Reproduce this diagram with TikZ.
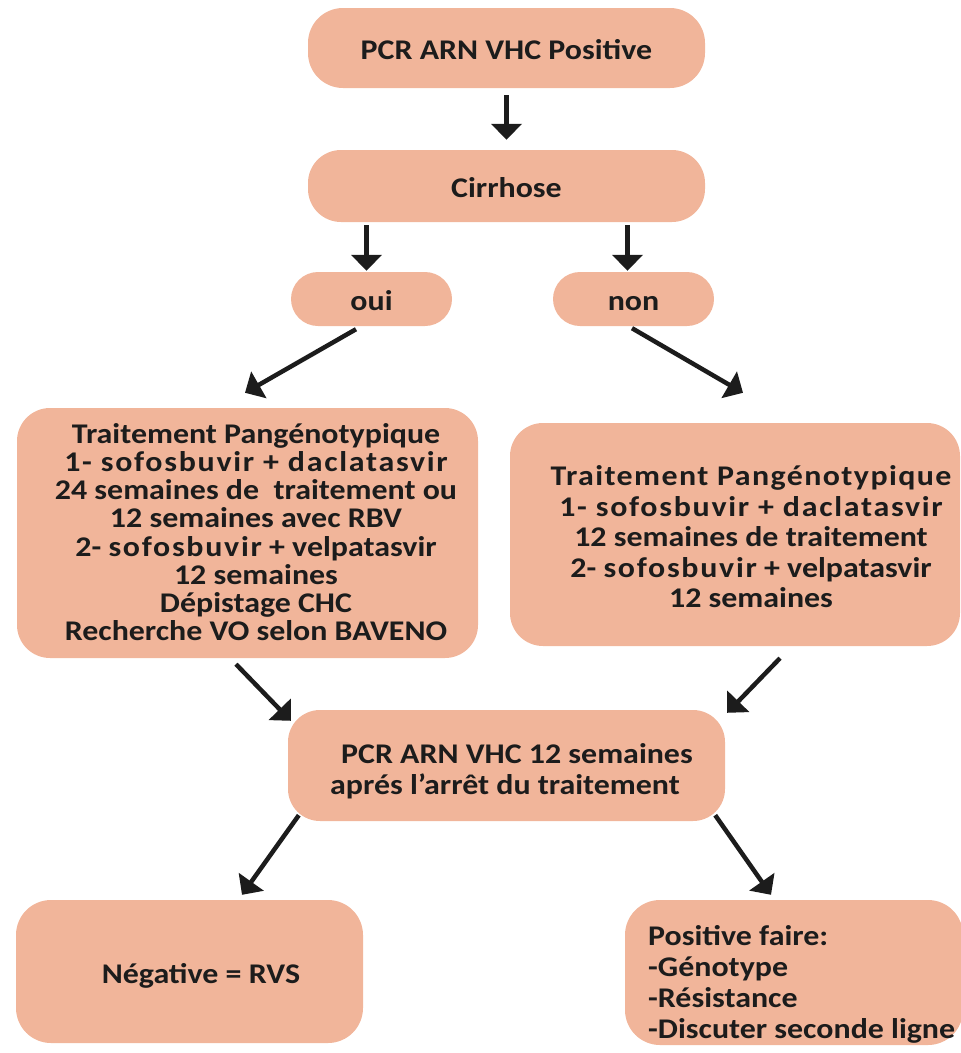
\documentclass[tikz,border=0pt]{standalone}
\usepackage{fontspec}
\setmainfont{Carlito}[FakeStretch=1.12]
\usetikzlibrary{arrows.meta,calc}
\definecolor{boxfill}{RGB}{241,181,154}
\definecolor{ink}{RGB}{28,28,28}
\newcommand\spc[1]{{\addfontfeature{LetterSpace=6}#1}}
\newcommand\spcb[1]{{\addfontfeature{LetterSpace=5}#1}}
\begin{document}
\begin{tikzpicture}[x=1pt,y=-1pt,
  box/.style={fill=boxfill, draw=none, inner sep=0pt},
  lbl/.style={font=\fontsize{28.5}{28.2}\selectfont\bfseries, text=ink, inner sep=0pt},
  one/.style={text height=22pt, text depth=0pt},
  arr/.style={draw=ink, line width=4.5pt, -{Triangle[width=30pt,length=16pt]}}]
\useasboundingbox (0,0) rectangle (961,1053);
% boxes
\node[box, lbl, one, rounded corners=35pt, minimum width=397pt, minimum height=80pt] (top) at (506.5,48) {PCR ARN VHC Positive};
\node[box, lbl, one, rounded corners=33pt, minimum width=397pt, minimum height=72pt] (cir) at (506.5,186) {Cirrhose};
\node[box, lbl, one, rounded corners=27pt, minimum width=161pt, minimum height=54pt] (oui) at (371.5,299) {oui};
\node[box, lbl, one, rounded corners=27pt, minimum width=161pt, minimum height=54pt] (non) at (633.5,299) {non};
\node[box, rounded corners=33pt, minimum width=461pt, minimum height=250pt] (L) at (247.5,533) {};
\node[box, rounded corners=33pt, minimum width=450pt, minimum height=223pt] (R) at (735,534.5) {};
\node[box, rounded corners=32pt, minimum width=437pt, minimum height=111pt] (C) at (506.5,765.5) {};
\node[box, rounded corners=35pt, minimum width=347pt, minimum height=143pt] (NEG) at (189.5,971.5) {};
\node[box, rounded corners=35pt, minimum width=338pt, minimum height=145pt] (POS) at (794,972.5) {};
% texts
\node[lbl, align=center] (Ltxt) at (256,532) {Traitement Pangénotypique\\
\spc{1- sofosbuvir + daclatasvir}\\
24 semaines de\ \ traitement ou\\
12 semaines avec RBV\\
2- \spc{sofosbuvir} + velpatasvir\\
12 semaines\\
Dépistage CHC\\
Recherche VO selon BAVENO};
\node[lbl, align=center, font=\fontsize{28.5}{30.5}\selectfont\bfseries] (Rtxt) at (751,537) {\spcb{Traitement Pangénotypique}\\
\spc{1- sofosbuvir + daclatasvir}\\
12 semaines de traitement\\
2- \spc{sofosbuvir} + velpatasvir\\
12 semaines};
\node[lbl, align=center, font=\fontsize{28.5}{31}\selectfont\bfseries] (Ctxt) at (505,771) {\hspace*{24pt}PCR ARN VHC 12 semaines\\aprés l’arrêt du traitement};
\node[lbl, anchor=base] (NEGtxt) at (201,983) {Négative = RVS};
\node[lbl, align=left, anchor=west, font=\fontsize{28.5}{31}\selectfont\bfseries] (POStxt) at (648,984) {Positive faire:\\-Génotype\\-Résistance\\-Discuter seconde ligne};
% arrows
\draw[arr] ($(top.south)+(0,7)$) -- ($(cir.north)+(0,-10)$);
\draw[arr] ($(oui.north |- cir.south)+(-5,3)$) -- ($(oui.north)+(-5,-1)$);
\draw[arr] ($(non.north |- cir.south)+(-6,3)$) -- ($(non.north)+(-6,-1)$);
\draw[arr] ($(oui.south)+(-15.5,3)$) -- ($(L.north)+(-2.5,-15)$);
\draw[arr] ($(non.south)+(-1.5,2)$) -- ($(R.north)+(8,-30)$);
\draw[arr] ($(L.south)+(-11.5,6)$) -- ($(C.north west)+(3,11)$);
\draw[arr] ($(R.south)+(45,12)$) -- ($(C.north east)+(2,3)$);
\draw[arr] ($(C.south west)+(11,-6)$) -- ($(NEG.north)+(52.5,-5)$);
\draw[arr] ($(C.south east)+(-10,-6)$) -- ($(POS.north)+(-23,-5)$);
\end{tikzpicture}
\end{document}
